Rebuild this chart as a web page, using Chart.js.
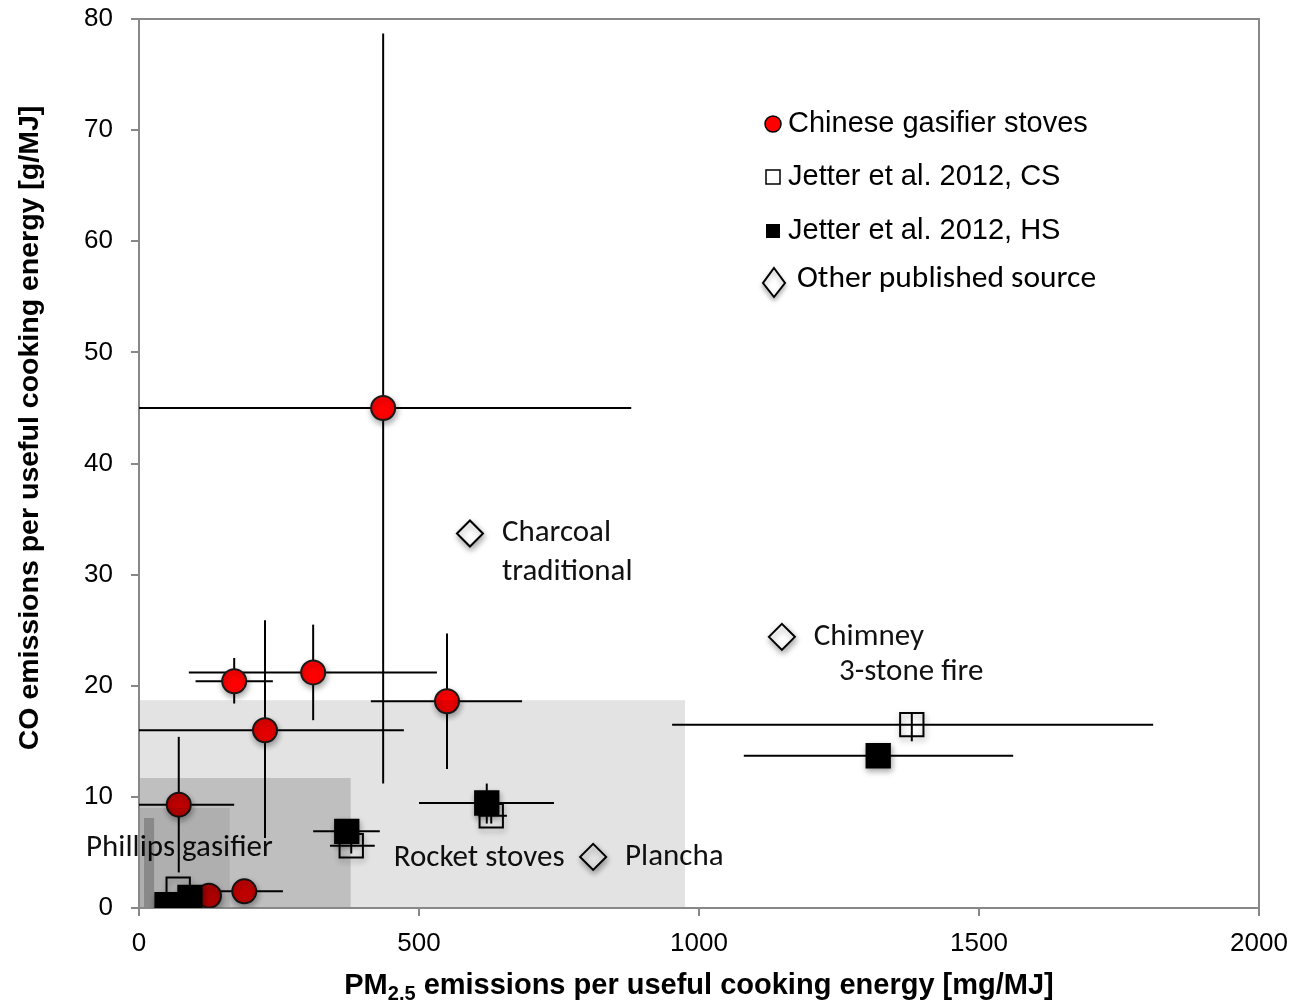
<!DOCTYPE html>
<html><head><meta charset="utf-8">
<script src="https://cdn.jsdelivr.net/npm/chart.js@4/dist/chart.umd.min.js"></script>
<style>html,body{margin:0;padding:0;background:#fff;}#wrap{width:1307px;height:1001px;}</style>
</head><body><div id="wrap"><canvas id="c" width="1307" height="1001"></canvas></div>
<script>
// ---------- DATA ----------
const xTicks = [0, 500, 1000, 1500, 2000];
const yTicks = [0, 10, 20, 30, 40, 50, 60, 70, 80];

// Chinese gasifier stoves
const gasX   = [436, 170, 311, 225, 550, 71, 188, 125];
const gasY   = [45.0, 20.4, 21.2, 16.0, 18.6, 9.3, 1.5, 1.1];
const gasXLo = [0, 101, 89, 0, 414, 0, 125, null];
const gasXHi = [879, 239, 532, 473, 684, 170, 257, null];
const gasYLo = [11.2, 18.4, 16.9, 6.3, 12.5, 3.2, null, null];
const gasYHi = [78.7, 22.5, 25.5, 25.9, 24.7, 15.4, null, null];

// Jetter et al. 2012, CS (open squares)
const csX   = [1380, 629, 379, 70];
const csY   = [16.5, 8.3, 5.6, 1.7];
const csXLo = [952, 606, 341, null];
const csXHi = [1811, 657, 421, null];
const csYLo = [15.0, 7.6, 4.9, null];
const csYHi = [17.6, 9.0, 7.3, null];

// Jetter et al. 2012, HS (filled squares)
const hsX   = [1320, 621, 371, 50, 91];
const hsY   = [13.7, 9.45, 6.9, 0.3, 0.95];
const hsXLo = [1080, 500, 311, null, null];
const hsXHi = [1561, 741, 430, null, null];
const hsYLo = [null, 7.6, null, null, null];
const hsYHi = [null, 11.2, null, null, null];

// Other published source (diamonds)
const otherNames = ['Charcoal traditional', 'Chimney 3-stone fire', 'Plancha'];
const otherX = [591, 1148, 811];
const otherY = [33.7, 24.4, 4.6];

// Shaded ranges (x min/max, y max) starting at y = 0
const shadeXMin = [0, 0, 0, 9];
const shadeXMax = [975, 378, 162, 27];
const shadeYMax = [18.7, 11.7, 9.0, 8.1];

const legendLabels = ['Chinese gasifier stoves', 'Jetter et al. 2012, CS', 'Jetter et al. 2012, HS', 'Other published source'];

// ---------- helpers ----------
const pts = (xs, ys) => xs.map((x, i) => ({x: x, y: ys[i]}));
const SANS = '"Liberation Sans", Arial, sans-serif';
const CAL = 'Carlito, Lato, "Open Sans", sans-serif';

const errorSets = [
  {x: gasX, y: gasY, xl: gasXLo, xh: gasXHi, yl: gasYLo, yh: gasYHi},
  {x: csX, y: csY, xl: csXLo, xh: csXHi, yl: csYLo, yh: csYHi},
  {x: hsX, y: hsY, xl: hsXLo, xh: hsXHi, yl: hsYLo, yh: hsYHi}
];

const errorBars = {
  id: 'errorBars',
  beforeDatasetsDraw(chart) {
    const {ctx, scales: {x, y}} = chart;
    ctx.save();
    ctx.strokeStyle = '#000';
    ctx.lineWidth = 2;
    errorSets.forEach(s => {
      s.x.forEach((xv, i) => {
        const px = x.getPixelForValue(xv), py = y.getPixelForValue(s.y[i]);
        if (s.xl[i] !== null) {
          ctx.beginPath();
          ctx.moveTo(x.getPixelForValue(s.xl[i]), py);
          ctx.lineTo(x.getPixelForValue(s.xh[i]), py);
          ctx.stroke();
        }
        if (s.yl[i] !== null) {
          ctx.beginPath();
          ctx.moveTo(px, y.getPixelForValue(s.yl[i]));
          ctx.lineTo(px, y.getPixelForValue(s.yh[i]));
          ctx.stroke();
        }
      });
    });
    ctx.restore();
  }
};

const shadow = {
  id: 'shadow',
  beforeDatasetDraw(chart) {
    const ctx = chart.ctx;
    ctx.save();
    ctx.shadowColor = 'rgba(0,0,0,0.35)';
    ctx.shadowBlur = 6;
    ctx.shadowOffsetX = 1;
    ctx.shadowOffsetY = 3;
  },
  afterDatasetDraw(chart) { chart.ctx.restore(); }
};

const shadeAlpha = [0.11, 0.16, 0.085, 0.22];
const overlays = {
  id: 'overlays',
  afterDatasetsDraw(chart) {
    const {ctx, scales: {x, y}, chartArea: a} = chart;
    ctx.save();
    // annotation labels
    ctx.fillStyle = '#111';
    ctx.textBaseline = 'middle';
    ctx.textAlign = 'left';
    ctx.font = '31px ' + CAL;
    const labels = [
      ['Charcoal', 648, 33.75], ['traditional', 648, 30.24],
      ['Chimney', 1205, 24.39], ['3-stone fire', 1250, 21.24],
      ['Rocket stoves', 455, 4.5], ['Plancha', 868, 4.59],
      ['Phillips gasifier', -94.6, 5.4]
    ];
    labels.forEach(l => ctx.fillText(l[0], x.getPixelForValue(l[1]), y.getPixelForValue(l[2])));
    // shaded ranges
    shadeXMax.forEach((xm, i) => {
      const x0 = x.getPixelForValue(shadeXMin[i]) + (i === 3 ? 0 : 1);
      const x1 = x.getPixelForValue(xm);
      const y0 = y.getPixelForValue(shadeYMax[i]);
      const y1 = y.getPixelForValue(0) - 1;
      ctx.fillStyle = 'rgba(0,0,0,' + shadeAlpha[i] + ')';
      ctx.fillRect(x0, y0, x1 - x0, y1 - y0);
    });
    // frame top / right
    ctx.strokeStyle = '#888';
    ctx.lineWidth = 2;
    ctx.beginPath();
    ctx.moveTo(a.left, a.top); ctx.lineTo(a.right, a.top); ctx.lineTo(a.right, a.bottom);
    ctx.stroke();
    ctx.restore();
  },
  afterDraw(chart) {
    const {ctx, chartArea: a} = chart;
    ctx.save();
    // axis titles
    ctx.fillStyle = '#000';
    ctx.font = 'bold 28.5px ' + SANS;
    ctx.textAlign = 'center';
    ctx.textBaseline = 'middle';
    ctx.translate(30, 428);
    ctx.rotate(-Math.PI / 2);
    ctx.fillText('CO emissions per useful cooking energy [g/MJ]', 0, 0);
    ctx.restore();

    ctx.save();
    ctx.fillStyle = '#000';
    ctx.textBaseline = 'alphabetic';
    ctx.textAlign = 'left';
    const big = 'bold 29px ' + SANS, small = 'bold 20px ' + SANS;
    const p1 = 'PM', p2 = '2.5', p3 = ' emissions per useful cooking energy [mg/MJ]';
    ctx.font = big; const w1 = ctx.measureText(p1).width, w3 = ctx.measureText(p3).width;
    ctx.font = small; const w2 = ctx.measureText(p2).width;
    const total = w1 + w2 + w3;
    let sx = (a.left + a.right) / 2 - total / 2;
    const base = 994;
    ctx.font = big; ctx.fillText(p1, sx, base); sx += w1;
    ctx.font = small; ctx.fillText(p2, sx, base + 6); sx += w2;
    ctx.font = big; ctx.fillText(p3, sx, base);

    // legend
    const lx = 773;
    const rows = [124, 177, 231, 281];
    ctx.lineWidth = 1.5;
    ctx.beginPath(); ctx.arc(lx, rows[0], 8, 0, Math.PI * 2);
    ctx.fillStyle = '#ff0000'; ctx.fill(); ctx.strokeStyle = '#000'; ctx.stroke();
    ctx.strokeRect(lx - 7, rows[1] - 7, 14, 14);
    ctx.fillStyle = '#000'; ctx.fillRect(lx - 7, rows[2] - 7, 14, 14);
    ctx.save();
    ctx.shadowColor = 'rgba(0,0,0,0.3)'; ctx.shadowBlur = 5; ctx.shadowOffsetY = 3;
    ctx.beginPath();
    ctx.moveTo(lx + 1, rows[3] - 13); ctx.lineTo(lx + 12, rows[3] + 2);
    ctx.lineTo(lx + 1, rows[3] + 16); ctx.lineTo(lx - 10, rows[3] + 2); ctx.closePath();
    ctx.fillStyle = '#fff'; ctx.fill(); ctx.lineWidth = 2; ctx.strokeStyle = '#000'; ctx.stroke();
    ctx.restore();
    ctx.fillStyle = '#000';
    ctx.textBaseline = 'middle';
    ctx.font = '29px ' + SANS;
    ctx.fillText(legendLabels[0], 788, rows[0]);
    ctx.fillText(legendLabels[1], 788, rows[1]);
    ctx.fillText(legendLabels[2], 788, rows[2]);
    ctx.font = '31.5px ' + CAL;
    ctx.fillText(legendLabels[3], 797, rows[3] - 2);
    ctx.restore();
  }
};

new Chart(document.getElementById('c'), {
  type: 'scatter',
  data: {
    datasets: [
      {label: legendLabels[2], data: pts(hsX, hsY), order: 0, pointStyle: 'rect', pointRadius: 16.5,
       backgroundColor: '#000', borderColor: '#000', borderWidth: 2},
      {label: legendLabels[1], data: pts(csX, csY), order: 1, pointStyle: 'rect', pointRadius: 16.5,
       backgroundColor: 'rgba(0,0,0,0)', borderColor: '#000', borderWidth: 2},
      {label: legendLabels[0], data: pts(gasX, gasY), order: 2, pointStyle: 'circle', pointRadius: 12,
       backgroundColor: '#ff0000', borderColor: '#1a1a1a', borderWidth: 2},
      {label: legendLabels[3], data: pts(otherX, otherY), order: 3, pointStyle: 'rectRot', pointRadius: 13,
       backgroundColor: '#fff', borderColor: '#000', borderWidth: 2}
    ]
  },
  options: {
    responsive: false,
    animation: false,
    events: [],
    layout: {padding: {left: 0, right: 48, top: 19, bottom: 0}},
    plugins: {legend: {display: false}, tooltip: {enabled: false}},
    scales: {
      x: {
        type: 'linear', min: 0, max: 2000,
        afterBuildTicks: s => { s.ticks = xTicks.map(v => ({value: v})); },
        ticks: {font: {family: SANS, size: 26}, color: '#000', padding: 12, maxRotation: 0,
                callback: v => String(v)},
        grid: {drawOnChartArea: false, tickLength: 8, color: '#888', lineWidth: 2},
        border: {color: '#888', width: 2},
        afterFit: s => { s.height = 93; s.paddingLeft = 0; s.paddingRight = 0; }
      },
      y: {
        type: 'linear', min: 0, max: 80,
        afterBuildTicks: s => { s.ticks = yTicks.map(v => ({value: v})); },
        ticks: {font: {family: SANS, size: 26}, color: '#000', padding: 18, callback: v => String(v)},
        grid: {drawOnChartArea: false, tickLength: 8, color: '#888', lineWidth: 2},
        border: {color: '#888', width: 2},
        afterFit: s => { s.width = 139; s.paddingTop = 0; s.paddingBottom = 0; }
      }
    }
  },
  plugins: [errorBars, shadow, overlays]
});
</script>
</body></html>
